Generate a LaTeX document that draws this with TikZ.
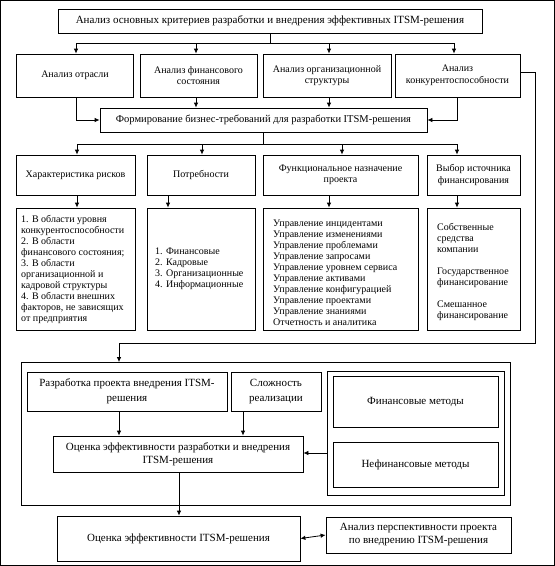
\documentclass[tikz,border=0pt]{standalone}
\usepackage{fontspec}
\setmainfont{Liberation Serif}
\usetikzlibrary{arrows.meta,calc}
\begin{document}
\begin{tikzpicture}[x=1pt,y=-1pt,
  box/.style={draw, line width=0.8pt, inner sep=2pt, align=center, font=\fontsize{10}{11.5}\selectfont},
  bbox/.style={box, font=\fontsize{11}{13}\selectfont},
  txt/.style={inner sep=0pt, align=left, anchor=west, font=\fontsize{10}{11}\selectfont},
  arr/.style={-{Latex[length=5pt,width=4.5pt]}, line width=0.8pt},
  darr/.style={{Latex[length=5pt,width=4.5pt]}-{Latex[length=5pt,width=4.5pt]}, line width=0.8pt},
  ln/.style={line width=0.8pt}]
\useasboundingbox (0,0) rectangle (555,566);
\draw[line width=1pt] (0.5,0.5) rectangle (554.5,565.5);
% top
\node[box, font=\fontsize{11}{13}\selectfont, minimum width=424pt, minimum height=24pt] (top) at (270,21) {Анализ основных критериев разработки и внедрения эффективных ITSM-решения};
% row 1
\node[box, minimum width=117pt, minimum height=43pt] (r1a) at (75,75.5) {Анализ отрасли};
\node[box, minimum width=117pt, minimum height=43pt] (r1b) at (198.5,75.5) {Анализ финансового\\состояния};
\node[box, minimum width=128pt, minimum height=43pt] (r1c) at (327,75.5) {Анализ организационной\\структуры};
\node[box, minimum width=125pt, minimum height=43pt] (r1d) at (457.5,75.5) {Анализ\\конкурентоспособности};
% form
\node[box, font=\fontsize{10.5}{12}\selectfont, minimum width=327pt, minimum height=24pt] (form) at (263.5,120) {Формирование бизнес-требований для разработки ITSM-решения};
% row 2
\node[box, minimum width=119pt, minimum height=40pt] (r2a) at (75.5,175) {Характеристика рисков};
\node[box, minimum width=108pt, minimum height=40pt] (r2b) at (201,175) {Потребности};
\node[box, minimum width=155pt, minimum height=40pt] (r2c) at (340.5,175) {Функциональное назначение\\проекта};
\node[box, minimum width=93pt, minimum height=40pt] (r2d) at (473.5,175) {Выбор источника\\финансирования};
% row 3
\node[box, minimum width=119pt, minimum height=122pt] (r3a) at (75.5,269) {};
\node[box, minimum width=108pt, minimum height=122pt] (r3b) at (201,269) {};
\node[box, minimum width=155pt, minimum height=122pt] (r3c) at (340.5,269) {};
\node[box, minimum width=93pt, minimum height=122pt] (r3d) at (473.5,269) {};
\node[txt] (t3a) at (21,269.5) {1. В области уровня\\конкурентоспособности\\2. В области\\финансового состояния;\\3. В области\\организационной и\\кадровой структуры\\4. В области внешних\\факторов, не зависящих\\от предприятия};
\node[txt] (t3b) at (155,269) {1. Финансовые\\2. Кадровые\\3. Организационные\\4. Информационные};
\node[txt] (t3c) at (273,272.5) {Управление инцидентами\\Управление изменениями\\Управление проблемами\\Управление запросами\\Управление уровнем сервиса\\Управление активами\\Управление конфигурацией\\Управление проектами\\Управление знаниями\\Отчетность и аналитика};
\node[txt] (t3d) at (437,272) {Собственные\\средства\\компании\\[11pt]Государственное\\финансирование\\[11pt]Смешанное\\финансирование};
% bottom block
\node[box, minimum width=489pt, minimum height=143pt] (big) at (266,434) {};
\node[bbox, font=\fontsize{11}{15}\selectfont, minimum width=200pt, minimum height=39pt] (dev) at (127,391.5) {Разработка проекта внедрения ITSM-\\решения};
\node[bbox, font=\fontsize{11}{15}\selectfont, minimum width=90pt, minimum height=39pt] (cmp) at (276,391.5) {Сложность\\реализации};
\node[box, minimum width=177pt, minimum height=124pt] (grp) at (415.5,433) {};
\node[bbox, minimum width=165pt, minimum height=51pt] (fin) at (415.5,401.5) {Финансовые методы};
\node[bbox, minimum width=165pt, minimum height=45pt] (nfin) at (415.5,464.5) {Нефинансовые методы};
\node[bbox, minimum width=250pt, minimum height=36pt] (eval) at (178,454) {Оценка эффективности разработки и внедрения\\ITSM-решения};
\node[bbox, minimum width=243pt, minimum height=45pt] (itsm) at (178.5,538.5) {Оценка эффективности ITSM-решения};
\node[bbox, minimum width=185pt, minimum height=36pt] (persp) at (418.5,535) {Анализ перспективности проекта\\по внедрению ITSM-решения};
% coordinates
\coordinate (hA) at (0,43);
\coordinate (hB) at (0,144);
\coordinate (hC) at (0,343);
\coordinate (xR) at (535,0);
\coordinate (xL) at (119,0);
\coordinate (x76) at (76,0);
\coordinate (x77) at (77,0);
\coordinate (x196) at (196,0);
\coordinate (x329a) at (329,0);
\coordinate (x454) at (454,0);
\coordinate (x202) at (202,0);
\coordinate (x342) at (342,0);
\coordinate (x457) at (457,0);
\coordinate (x168) at (168,0);
\coordinate (x329) at (329,0);
\coordinate (x243) at (243,0);
% top connectors
\draw[ln] (top.south) -- (top.south |- hA);
\draw[ln] (x76 |- hA) -- (x454 |- hA);
\draw[arr] (x76 |- hA) -- (x76 |- r1a.north);
\draw[arr] (x196 |- hA) -- (x196 |- r1b.north);
\draw[arr] (x329a |- hA) -- (x329a |- r1c.north);
\draw[arr] (x454 |- hA) -- (x454 |- r1d.north);
% row1 to form
\draw[arr] (x76 |- r1a.south) |- (form.west);
\draw[arr] (x196 |- r1b.south) -- (x196 |- form.north);
\draw[arr] (x329a |- r1c.south) -- (x329a |- form.north);
\draw[arr] (x457 |- r1d.south) |- (form.east);
% form to row 2
\draw[ln] (form.south) -- (form.south |- hB);
\draw[ln] (x77 |- hB) -- (x457 |- hB);
\draw[arr] (x77 |- hB) -- (x77 |- r2a.north);
\draw[arr] (x202 |- hB) -- (x202 |- r2b.north);
\draw[arr] (x342 |- hB) -- (x342 |- r2c.north);
\draw[arr] (x457 |- hB) -- (x457 |- r2d.north);
% row 2 to row 3
\draw[arr] (x77 |- r2a.south) -- (x77 |- r3a.north);
\draw[arr] (x168 |- r2b.south) -- (x168 |- r3b.north);
\draw[arr] (x329 |- r2c.south) -- (x329 |- r3c.north);
\draw[arr] (x457 |- r2d.south) -- (x457 |- r3d.north);
% right loop
\draw[arr] (r1d.east |- 0,72) -- (xR |- 0,72) -- (xR |- hC) -- (xL |- hC) -- (xL |- big.north);
% bottom
\draw[arr] (xL |- dev.south) -- (xL |- eval.north);
\draw[arr] (x243 |- cmp.south) -- (x243 |- eval.north);
\draw[arr] (grp.west |- 0,453) -- (eval.east |- 0,453);
\draw[arr] (eval.south -| 179,0) -- (itsm.north -| 179,0);
\draw[darr] (itsm.east) -- (persp.west);
\end{tikzpicture}
\end{document}
